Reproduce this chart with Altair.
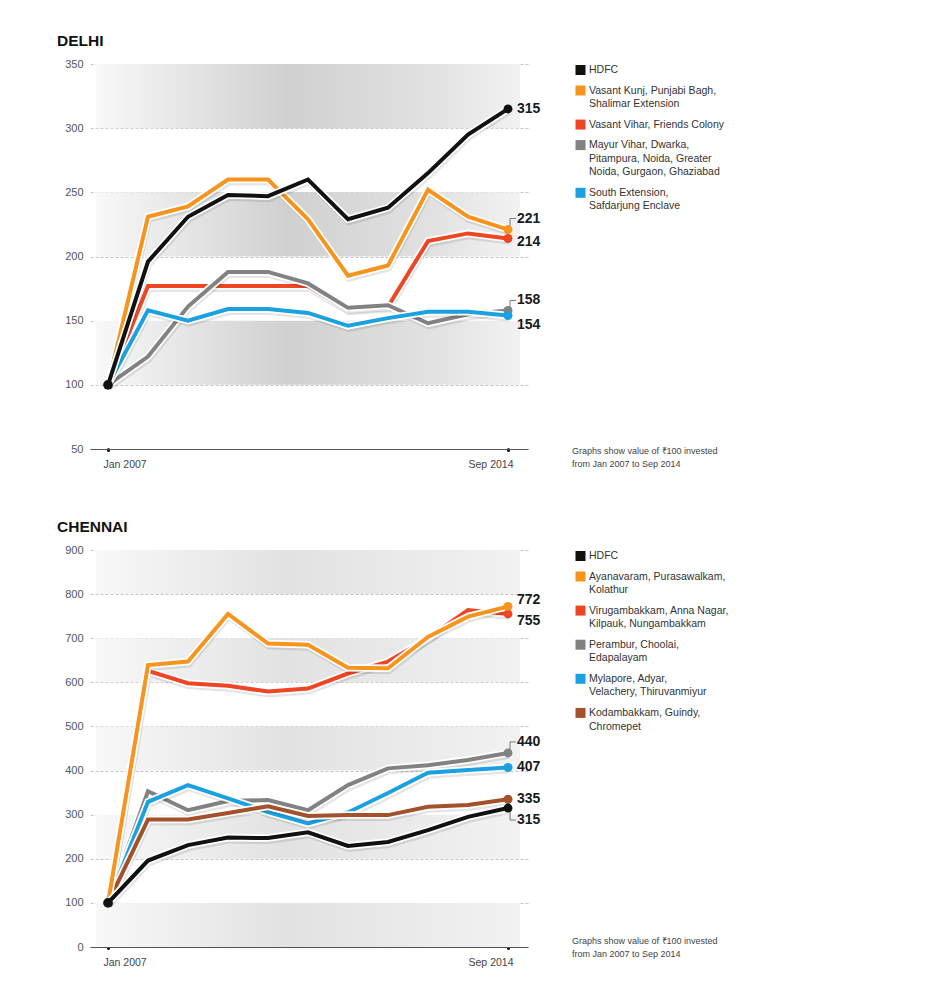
import altair as alt
import pandas as pd

FONT = "Liberation Sans, Arial, sans-serif"

# ---------------- data ----------------
periods = list(range(11))
x_tick_values = [0, 10]
x_tick_labels = ["Jan 2007", "Sep 2014"]

note_lines = ["Graphs show value of \u20b9100 invested", "from Jan 2007 to Sep 2014"]

# Delhi
delhi_series = [
    "HDFC",
    "Vasant Kunj, Punjabi Bagh, Shalimar Extension",
    "Vasant Vihar, Friends Colony",
    "Mayur Vihar, Dwarka, Pitampura, Noida, Greater Noida, Gurgaon, Ghaziabad",
    "South Extension, Safdarjung Enclave",
]
delhi_legend_lines = [
    ["HDFC"],
    ["Vasant Kunj, Punjabi Bagh,", "Shalimar Extension"],
    ["Vasant Vihar, Friends Colony"],
    ["Mayur Vihar, Dwarka,", "Pitampura, Noida, Greater", "Noida, Gurgaon, Ghaziabad"],
    ["South Extension,", "Safdarjung Enclave"],
]
delhi_hdfc = [100, 196, 231, 248, 247, 260, 229, 238, 265, 295, 315]
delhi_vasant_kunj = [100, 231, 239, 260, 260, 229, 185, 193, 252, 231, 221]
delhi_vasant_vihar = [100, 177, 177, 177, 177, 177, 159, 161, 212, 218, 214]
delhi_mayur_vihar = [100, 122, 161, 188, 188, 179, 160, 162, 148, 155, 158]
delhi_south_ext = [100, 158, 150, 159, 159, 156, 146, 152, 157, 157, 154]
delhi_values = [delhi_hdfc, delhi_vasant_kunj, delhi_vasant_vihar, delhi_mayur_vihar, delhi_south_ext]
delhi_y_ticks = [50, 100, 150, 200, 250, 300, 350]
delhi_bands = [[100, 150], [200, 250], [300, 350]]

# Chennai
chennai_series = [
    "HDFC",
    "Ayanavaram, Purasawalkam, Kolathur",
    "Virugambakkam, Anna Nagar, Kilpauk, Nungambakkam",
    "Perambur, Choolai, Edapalayam",
    "Mylapore, Adyar, Velachery, Thiruvanmiyur",
    "Kodambakkam, Guindy, Chromepet",
]
chennai_legend_lines = [
    ["HDFC"],
    ["Ayanavaram, Purasawalkam,", "Kolathur"],
    ["Virugambakkam, Anna Nagar,", "Kilpauk, Nungambakkam"],
    ["Perambur, Choolai,", "Edapalayam"],
    ["Mylapore, Adyar,", "Velachery, Thiruvanmiyur"],
    ["Kodambakkam, Guindy,", "Chromepet"],
]
chennai_hdfc = [100, 196, 231, 248, 247, 260, 229, 238, 265, 295, 315]
chennai_ayanavaram = [100, 639, 647, 755, 688, 685, 633, 632, 703, 749, 772]
chennai_virugambakkam = [100, 626, 598, 592, 579, 586, 620, 647, 700, 764, 755]
chennai_perambur = [100, 353, 310, 331, 333, 310, 367, 405, 412, 424, 440]
chennai_mylapore = [100, 329, 367, 337, 306, 280, 305, 349, 395, 401, 407]
chennai_kodambakkam = [100, 289, 289, 304, 319, 297, 299, 299, 318, 322, 335]
chennai_values = [chennai_hdfc, chennai_ayanavaram, chennai_virugambakkam,
                  chennai_perambur, chennai_mylapore, chennai_kodambakkam]
chennai_y_ticks = [0, 100, 200, 300, 400, 500, 600, 700, 800, 900]
chennai_bands = [[0, 100], [200, 300], [400, 500], [600, 700], [800, 900]]

# ---------------- styles ----------------
C_BLACK = "#111111"
C_ORANGE = "#F7941D"
C_RED = "#EE4524"
C_GRAY = "#828282"
C_BLUE = "#1BA1E2"
C_BROWN = "#A4502A"

delhi_colors = [C_BLACK, C_ORANGE, C_RED, C_GRAY, C_BLUE]
chennai_colors = [C_BLACK, C_ORANGE, C_RED, C_GRAY, C_BLUE, C_BROWN]

delhi_order = [2, 3, 1, 4, 0]
chennai_order = [3, 2, 4, 5, 1, 0]
delhi_label_dy = [0, -11, 3, -10, 9]
chennai_label_dy = [12, -6, 7, -11, 0, 0]
delhi_connector = [False, True, False, True, False]
chennai_connector = [True, False, False, True, False, False]

X_DOMAIN = [-0.45, 10.5]
PLOT_W = 438


def band_fill(mid, right):
    return alt.Gradient(
        gradient="linear", x1=0, x2=1, y1=0, y2=0,
        stops=[
            alt.GradientStop(offset=0, color="#f8f8f8"),
            alt.GradientStop(offset=0.45, color=mid),
            alt.GradientStop(offset=0.8, color=right),
            alt.GradientStop(offset=1, color="#f2f2f2"),
        ],
    )


def make_city(title, names, values, colors, order, label_dy, connector,
              y_domain, y_ticks, bands, height, band_mid, band_right):
    rows = []
    for i, name in enumerate(names):
        for p, v in zip(periods, values[i]):
            rows.append({"series": name, "period": p, "value": v, "color": colors[i]})
    df = pd.DataFrame(rows)

    xscale = alt.Scale(domain=X_DOMAIN, nice=False, zero=False)
    yscale = alt.Scale(domain=y_domain, nice=False, zero=False)
    label_expr = " : ".join(
        f"datum.value == {v} ? '{t}'" for v, t in zip(x_tick_values[:-1], x_tick_labels[:-1])
    ) + f" : '{x_tick_labels[-1]}'"
    xaxis = alt.Axis(values=x_tick_values, labelExpr=label_expr, grid=False,
                     domain=True, domainColor="#555555", domainWidth=1,
                     ticks=True, tickColor="#111111", tickSize=1, tickWidth=3,
                     tickCap="round", labelFont=FONT, labelFontSize=10.5,
                     labelColor="#444444", labelPadding=9, labelFlush=30,
                     labelFlushOffset=5, title=None)
    yaxis = alt.Axis(values=y_ticks, grid=True, gridColor="#c4c4c4",
                     gridDash=[3, 2], gridWidth=1, domain=False, ticks=False,
                     labelFont=FONT, labelFontSize=11, labelColor="#555555",
                     labelPadding=7, title=None)

    X = alt.X("period:Q", scale=xscale, axis=xaxis)
    Y = alt.Y("value:Q", scale=yscale, axis=yaxis)

    band_df = pd.DataFrame({"y0": [b[0] for b in bands], "y1": [b[1] for b in bands]})
    band_layer = alt.Chart(band_df).mark_rect(fill=band_fill(band_mid, band_right)).encode(
        x=alt.datum(-0.3, scale=xscale, axis=xaxis),
        x2=alt.datum(10.3),
        y=alt.Y("y0:Q", scale=yscale, axis=yaxis),
        y2="y1:Q",
    )

    base = alt.Chart(df)
    layers = [band_layer]
    for i in order:
        sub = base.transform_filter(alt.FieldEqualPredicate(field="series", equal=names[i]))
        layers.append(sub.mark_line(color="#000000", opacity=0.10, strokeWidth=6,
                                    yOffset=3, xOffset=1).encode(x=X, y=Y))
        layers.append(sub.mark_line(color="white", strokeWidth=7.5).encode(x=X, y=Y))
        layers.append(sub.mark_line(color=colors[i], strokeWidth=4).encode(x=X, y=Y))

    last = base.transform_filter(alt.datum.period == periods[-1])
    for i in range(len(names)):
        if connector[i]:
            sub = last.transform_filter(alt.FieldEqualPredicate(field="series", equal=names[i]))
            layers.append(sub.mark_rule(color="#777777", strokeWidth=1,
                                        y2Offset=label_dy[i], xOffset=2, x2Offset=2).encode(
                x=X, y=Y, y2="value:Q"))
            layers.append(sub.mark_rule(color="#777777", strokeWidth=1,
                                        xOffset=2, x2Offset=8,
                                        yOffset=label_dy[i], y2Offset=label_dy[i]).encode(
                x=X, x2="period:Q", y=Y, y2="value:Q"))

    for i in order:
        sub = last.transform_filter(alt.FieldEqualPredicate(field="series", equal=names[i]))
        layers.append(sub.mark_circle(size=80, opacity=1, color=colors[i]).encode(x=X, y=Y))

    first = base.transform_filter(
        (alt.datum.period == periods[0]) & (alt.datum.series == names[0]))
    layers.append(first.mark_circle(size=95, opacity=1, color=C_BLACK).encode(x=X, y=Y))

    for i in range(len(names)):
        sub = last.transform_filter(alt.FieldEqualPredicate(field="series", equal=names[i]))
        layers.append(sub.mark_text(align="left", baseline="middle", dx=9, dy=label_dy[i],
                                    font=FONT, fontSize=14, fontWeight="bold",
                                    color="#1a1a1a").encode(
            x=X, y=Y, text=alt.Text("value:Q", format="d")))

    return alt.layer(*layers).properties(
        width=PLOT_W, height=height,
        title=alt.TitleParams(text=title, anchor="start", frame="group", dx=-33,
                              font=FONT, fontSize=15.5, fontWeight="bold",
                              color="#111111", offset=-3, baseline="alphabetic"),
    )


def make_legend(legend_lines, colors, height, note_y):
    LINE_H = 13.6
    GAP = 20.5
    text_rows = []
    sq_rows = []
    y = 6.0
    for i, lines in enumerate(legend_lines):
        sq_rows.append({"py": y, "color": colors[i]})
        for j, t in enumerate(lines):
            text_rows.append({"py": y + j * LINE_H, "text": t})
        y += (len(lines) - 1) * LINE_H + GAP
    note_rows = [{"py": note_y + k * 12.5, "text": t} for k, t in enumerate(note_lines)]

    sq = alt.Chart(pd.DataFrame(sq_rows)).mark_square(size=100, opacity=1).encode(
        x=alt.value(10.5),
        y=alt.Y("py:Q", scale=None, axis=None),
        color=alt.Color("color:N", scale=None, legend=None),
    )
    tx = alt.Chart(pd.DataFrame(text_rows)).mark_text(
        align="left", baseline="middle", font=FONT, fontSize=10.5, color="#333333"
    ).encode(x=alt.value(19), y=alt.Y("py:Q", scale=None, axis=None), text="text:N")
    nt = alt.Chart(pd.DataFrame(note_rows)).mark_text(
        align="left", baseline="middle", font=FONT, fontSize=9, color="#444444"
    ).encode(x=alt.value(2), y=alt.Y("py:Q", scale=None, axis=None), text="text:N")
    return alt.layer(sq, tx, nt).properties(width=190, height=height)


delhi = make_city("DELHI", delhi_series, delhi_values, delhi_colors, delhi_order,
                  delhi_label_dy, delhi_connector, [50, 350], delhi_y_ticks,
                  delhi_bands, 385, "#d0d0d0", "#e2e2e2")
chennai = make_city("CHENNAI", chennai_series, chennai_values, chennai_colors,
                    chennai_order, chennai_label_dy, chennai_connector, [0, 900],
                    chennai_y_ticks, chennai_bands, 397, "#e2e2e2", "#ececec")
delhi_leg = make_legend(delhi_legend_lines, delhi_colors, 385, 387)
chennai_leg = make_legend(chennai_legend_lines, chennai_colors, 397, 391)

chart = alt.concat(
    delhi, delhi_leg, chennai, chennai_leg,
    columns=2, spacing={"row": 101, "column": 42}, bounds="flush",
).properties(
    padding={"left": 49, "top": 25, "right": 5, "bottom": 5},
    background="white",
).configure_view(stroke=None)

chart.save("out.html", embed_options={"renderer": "svg", "actions": False})
